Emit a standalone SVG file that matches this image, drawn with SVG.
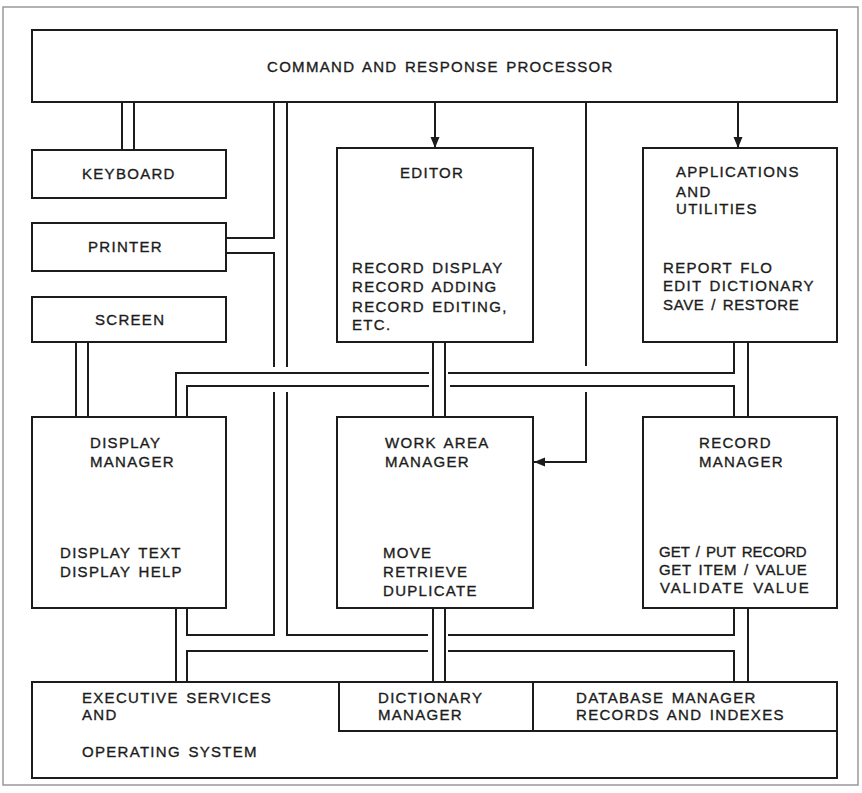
<svg xmlns="http://www.w3.org/2000/svg" width="862" height="793" viewBox="0 0 862 793">
<defs>
<marker id="arr" markerUnits="userSpaceOnUse" markerWidth="12" markerHeight="12" viewBox="0 0 12 12" refX="11" refY="6" orient="auto">
<path d="M0,1.5 L11,6 L0,10.5 Z" fill="#1c1c1c"/>
</marker>
<style>
.box{fill:#fff;stroke:#1c1c1c;stroke-width:2}
.ln{fill:none;stroke:#1c1c1c;stroke-width:2}
.t{font-family:"Liberation Sans",Arial,sans-serif;font-size:15px;fill:#1c1c1c;stroke:#1c1c1c;stroke-width:0.35px;letter-spacing:1.3px;word-spacing:2px}
</style>
</defs>
<rect x="3" y="7" width="855" height="778" fill="none" stroke="#999" stroke-width="1.5"/>

<g id="connectors">
<path class="ln" d="M122,102 V150 M134,102 V150"/>
<path class="ln" d="M226,238 H274 V102"/>
<path class="ln" d="M226,253 H274 V367 M274,392 V635 H187 V608"/>
<path class="ln" d="M287,102 V367 M287,392 V635 H428 M448,635 H734 V608"/>
<path class="ln" d="M176,417 V373 H429 M448,373 H734 V342"/>
<path class="ln" d="M187,417 V386 H429 M450,386 H734 V417"/>
<path class="ln" d="M748,342 V417"/>
<path class="ln" d="M433,342 V417 M445,342 V417"/>
<path class="ln" d="M433,608 V682 M445,608 V682"/>
<path class="ln" d="M176,608 V682"/>
<path class="ln" d="M187,682 V651 H428 M448,651 H734 V682"/>
<path class="ln" d="M748,608 V682"/>
<path class="ln" d="M76,342 V417 M88,342 V417"/>
<path class="ln" d="M435,102 V148" marker-end="url(#arr)"/>
<path class="ln" d="M738,102 V148" marker-end="url(#arr)"/>
<path class="ln" d="M586,102 V366 M586,392 V462 H534" marker-end="url(#arr)"/>
</g>

<g id="crp">
<rect class="box" x="32" y="30" width="805" height="72"/>
<text class="t" x="267" y="72" word-spacing="5">COMMAND AND RESPONSE PROCESSOR</text>
</g>
<g id="keyboard">
<rect class="box" x="32" y="150" width="194" height="48"/>
<text class="t" x="82" y="179">KEYBOARD</text>
</g>
<g id="printer">
<rect class="box" x="32" y="223" width="194" height="48"/>
<text class="t" x="88" y="252">PRINTER</text>
</g>
<g id="screen">
<rect class="box" x="32" y="297" width="194" height="45"/>
<text class="t" x="95" y="325">SCREEN</text>
</g>
<g id="display-manager">
<rect class="box" x="32" y="417" width="194" height="191"/>
<text class="t" x="90" y="448">DISPLAY</text>
<text class="t" x="90" y="467">MANAGER</text>
<text class="t" x="60" y="558">DISPLAY TEXT</text>
<text class="t" x="60" y="577">DISPLAY HELP</text>
</g>
<g id="editor">
<rect class="box" x="337" y="148" width="196" height="194"/>
<text class="t" x="400" y="178">EDITOR</text>
<text class="t" x="352" y="273">RECORD DISPLAY</text>
<text class="t" x="352" y="292">RECORD ADDING</text>
<text class="t" x="352" y="312">RECORD EDITING,</text>
<text class="t" x="352" y="330">ETC.</text>
</g>
<g id="applications">
<rect class="box" x="643" y="148" width="194" height="194"/>
<text class="t" x="676" y="177">APPLICATIONS</text>
<text class="t" x="676" y="197">AND</text>
<text class="t" x="676" y="214">UTILITIES</text>
<text class="t" x="663" y="273">REPORT FLO</text>
<text class="t" x="663" y="291">EDIT DICTIONARY</text>
<text class="t" x="663" y="310" textLength="137" lengthAdjust="spacing">SAVE / RESTORE</text>
</g>
<g id="work-area-manager">
<rect class="box" x="337" y="417" width="196" height="191"/>
<text class="t" x="385" y="448">WORK AREA</text>
<text class="t" x="385" y="467">MANAGER</text>
<text class="t" x="383" y="558">MOVE</text>
<text class="t" x="383" y="577">RETRIEVE</text>
<text class="t" x="383" y="596">DUPLICATE</text>
</g>
<g id="record-manager">
<rect class="box" x="643" y="417" width="194" height="191"/>
<text class="t" x="699" y="448">RECORD</text>
<text class="t" x="699" y="467">MANAGER</text>
<text class="t" x="659" y="557" textLength="149" lengthAdjust="spacing">GET / PUT RECORD</text>
<text class="t" x="659" y="575" textLength="149" lengthAdjust="spacing">GET ITEM / VALUE</text>
<text class="t" x="660" y="593" textLength="150" lengthAdjust="spacing">VALIDATE VALUE</text>
</g>
<g id="executive-services">
<rect class="box" x="32" y="682" width="805" height="96"/>
<text class="t" x="82" y="703">EXECUTIVE SERVICES</text>
<text class="t" x="82" y="720">AND</text>
<text class="t" x="82" y="757">OPERATING SYSTEM</text>
</g>
<g id="dictionary-manager">
<rect class="box" x="339" y="682" width="194" height="49"/>
<text class="t" x="378" y="703">DICTIONARY</text>
<text class="t" x="378" y="720">MANAGER</text>
</g>
<g id="database-manager">
<rect class="box" x="533" y="682" width="304" height="49"/>
<text class="t" x="576" y="703">DATABASE MANAGER</text>
<text class="t" x="576" y="720">RECORDS AND INDEXES</text>
</g>
</svg>
